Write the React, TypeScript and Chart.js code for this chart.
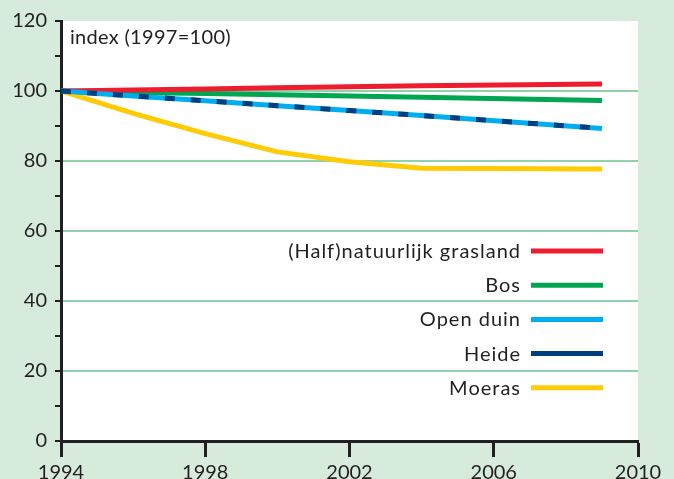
import React, { useEffect, useRef } from "react";
import { Chart, registerables } from "chart.js";

Chart.register(...registerables);

const years = [1994, 1996, 1998, 2000, 2002, 2004, 2009];
const grasland = [100, 100.3, 100.6, 100.9, 101.2, 101.5, 102];
const bos = [100, 99.6, 99.3, 98.9, 98.6, 98.2, 97.3];
const openDuin = [100, 98.6, 97.2, 95.8, 94.4, 93.0, 89.3];
const heide = [100, 98.6, 97.2, 95.8, 94.4, 93.0, 89.3];
const moeras = [100, 93.6, 87.8, 82.6, 79.8, 77.9, 77.7];

const seriesNames = ["(Half)natuurlijk grasland", "Bos", "Open duin", "Heide", "Moeras"];
const seriesColors = ["#ed1c2e", "#00a651", "#00aeef", "#003f7d", "#ffcb05"];
const yTickLabels = [0, 20, 40, 60, 80, 100, 120];
const xTickLabels = [1994, 1998, 2002, 2006, 2010];
const axisTitle = "index (1997=100)";

const FONT = "Lato";
const TEXT = "#231f20";
const GRID = "#92d1a9";
const BG = "#d7ebdd";

const pts = (vals: number[]) => vals.map((v, i) => ({ x: years[i], y: v }));

export default function App() {
  const ref = useRef<HTMLCanvasElement | null>(null);
  useEffect(() => {
    if (!ref.current) return;
    const whiteArea = {
      id: "whiteArea",
      beforeDraw(chart: any) {
        const { ctx, chartArea } = chart;
        ctx.save();
        ctx.fillStyle = "#ffffff";
        ctx.fillRect(chartArea.left, chartArea.top, chartArea.right - chartArea.left, chartArea.bottom - chartArea.top);
        ctx.restore();
      },
    };
    const customLegend = {
      id: "customLegend",
      afterDraw(chart: any) {
        const { ctx, chartArea } = chart;
        ctx.save();
        ctx.font = `20px ${FONT}`;
        (ctx as any).letterSpacing = "0.3px";
        ctx.fillStyle = TEXT;
        ctx.textAlign = "left";
        ctx.textBaseline = "alphabetic";
        ctx.fillText(axisTitle, chartArea.left + 9, chartArea.top + 23);
        (ctx as any).letterSpacing = "1px";
        const lineEnd = chartArea.right - 35;
        const lineStart = lineEnd - 72;
        const textRight = lineStart - 10;
        const y0 = chartArea.top + 230;
        const step = 34.2;
        ctx.textAlign = "right";
        seriesNames.forEach((name, i) => {
          const y = y0 + i * step;
          ctx.fillStyle = TEXT;
          ctx.fillText(name, textRight, y + 7);
          ctx.strokeStyle = seriesColors[i];
          ctx.lineWidth = 5;
          ctx.lineCap = "butt";
          ctx.beginPath();
          ctx.moveTo(lineStart, y);
          ctx.lineTo(lineEnd, y);
          ctx.stroke();
        });
        ctx.restore();
      },
    };
    const mk = (label: string, data: number[], color: string, order: number, extra: any = {}) => ({
      label,
      data: pts(data),
      borderColor: color,
      backgroundColor: color,
      borderWidth: 5,
      pointRadius: 0,
      borderCapStyle: "butt",
      tension: 0,
      fill: false,
      order,
      ...extra,
    });
    const chart = new Chart(ref.current, {
      type: "line",
      data: {
        datasets: [
          mk(seriesNames[3], heide, seriesColors[3], 0, { borderDash: [10, 16] }),
          mk(seriesNames[2], openDuin, seriesColors[2], 1),
          mk(seriesNames[0], grasland, seriesColors[0], 2),
          mk(seriesNames[1], bos, seriesColors[1], 3),
          mk(seriesNames[4], moeras, seriesColors[4], 4),
        ] as any,
      },
      options: {
        animation: false,
        responsive: false,
        layout: { padding: { top: 21, right: 36, left: 0, bottom: 0 } },
        plugins: { legend: { display: false }, tooltip: { enabled: false } },
        scales: {
          x: {
            type: "linear",
            min: xTickLabels[0],
            max: xTickLabels[xTickLabels.length - 1],
            afterFit(scale: any) {
              scale.height = 38;
            },
            afterBuildTicks(scale: any) {
              scale.ticks = xTickLabels.map((v) => ({ value: v }));
            },
            border: { display: true, color: TEXT, width: 3 },
            grid: { drawOnChartArea: false, drawTicks: true, tickLength: 16, tickColor: TEXT, tickWidth: 3 },
            ticks: {
              font: { family: FONT, size: 20 },
              color: TEXT,
              padding: 4,
              maxRotation: 0,
              autoSkip: false,
              callback: (v: any) => String(v),
            },
          },
          y: {
            type: "linear",
            min: yTickLabels[0],
            max: yTickLabels[yTickLabels.length - 1],
            afterFit(scale: any) {
              scale.width = 61;
            },
            border: { display: true, color: TEXT, width: 3 },
            grid: {
              drawOnChartArea: true,
              drawTicks: true,
              tickLength: 6,
              tickWidth: 2,
              tickColor: TEXT,
              lineWidth: 2,
              color: (c: any) => {
                const v = c.tick ? c.tick.value : 0;
                return yTickLabels.includes(v) && v > 0 && v < 120 ? GRID : "rgba(0,0,0,0)";
              },
            },
            ticks: {
              stepSize: 10,
              autoSkip: false,
              font: { family: FONT, size: 20 },
              color: TEXT,
              padding: 8,
              callback: (v: any) => (yTickLabels.includes(Number(v)) ? String(v) : ""),
            },
          },
        },
      },
      plugins: [whiteArea, customLegend],
    });
    return () => chart.destroy();
  }, []);
  return (
    <div style={{ position: "fixed", left: 0, top: 0, width: 674, height: 479, background: BG }}>
      <canvas ref={ref} width={674} height={479} style={{ display: "block" }} />
    </div>
  );
}
